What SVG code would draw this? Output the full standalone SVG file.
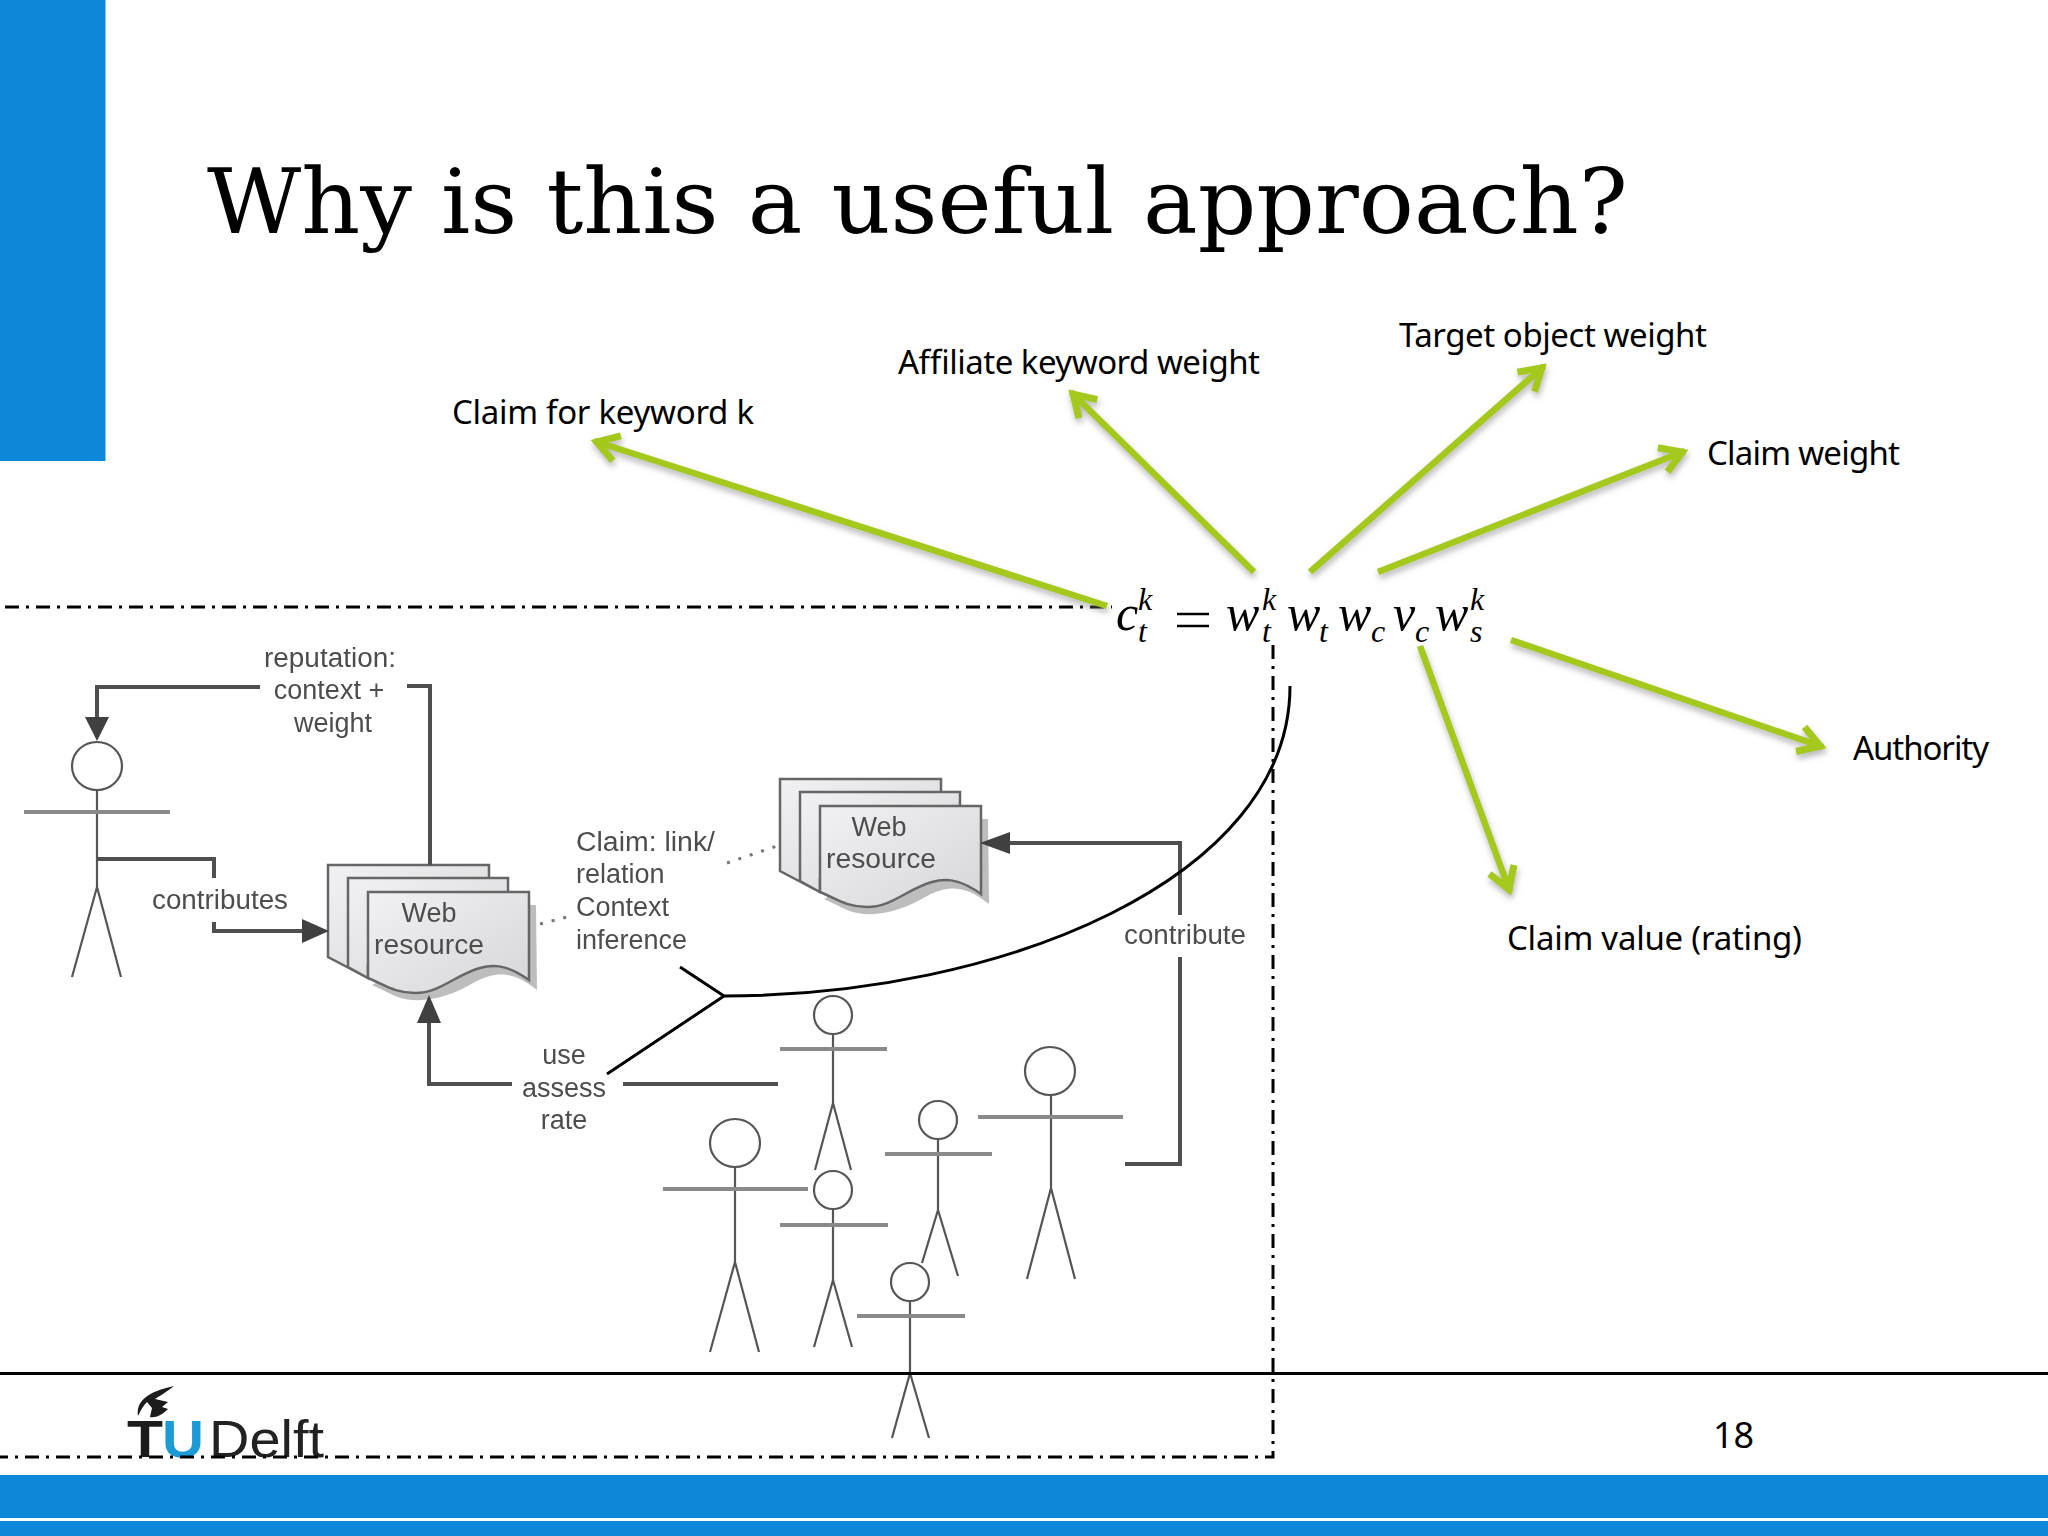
<svg xmlns="http://www.w3.org/2000/svg" xmlns:xlink="http://www.w3.org/1999/xlink" width="2048" height="1536" viewBox="0 0 2048 1536">
<style>
.lbl{font-family:"Noto Sans","Liberation Sans",sans-serif;font-size:33px;fill:#000}
.fig{font-family:"Liberation Sans",Arial,sans-serif;font-size:27px;fill:#4d4d4d;text-anchor:middle}
.figl{text-anchor:start}
.bar{fill:#0d87d7}
.stick{fill:none;stroke:#555;stroke-width:2.2}
.arm{fill:none;stroke:#8a8a8a;stroke-width:4}
.flow{fill:none;stroke:#4f4f4f;stroke-width:4}
.head{fill:#3f3f3f}
.dots{fill:none;stroke:#777;stroke-width:3;stroke-dasharray:3 9}
.dd{fill:none;stroke:#000;stroke-width:3;stroke-dasharray:14 7 3 7}
.green{fill:none;stroke:#a5c81a;stroke-width:6.5;marker-end:url(#chev)}
.m{font-family:"Liberation Serif","Times New Roman",serif;font-style:italic;font-size:50px;fill:#000}
.s{font-size:32px}
.page{stroke:#666;stroke-width:2.5;fill:url(#pg)}
</style>
<defs>
<linearGradient id="pg" x1="0" y1="0" x2="1" y2="1"><stop offset="0" stop-color="#f1f1f4"/><stop offset="1" stop-color="#d6d6d8"/></linearGradient>
<filter id="soft" x="-2%" y="-2%" width="104%" height="104%"><feGaussianBlur stdDeviation="0.7"/></filter>
<filter id="shade" x="-10%" y="-10%" width="120%" height="120%"><feDropShadow dx="1" dy="4" stdDeviation="3" flood-color="#777" flood-opacity="0.55"/></filter>
<marker id="chev" markerUnits="userSpaceOnUse" viewBox="-32 -20 36 40" refX="0" refY="0" markerWidth="36" markerHeight="40" orient="auto"><path d="M-24,-13 L-3,0 L-24,13" fill="none" stroke="#a5c81a" stroke-width="7"/></marker>
<g id="stack">
<path d="M529,905 L536,905 L537,990 C515,972 497,970 475,982 C450,997 420,1006 395,996 L372,985 Z" fill="#bdbdbd"/>
<path class="page" d="M328,865 H489 V960 H368 V978 L328,957 Z"/>
<path class="page" d="M348,878 H508 V965 H368 V978 L348,967 Z"/>
<path class="page" d="M368,892 H529 V980 C512,968 498,963 480,968 C455,975 440,993 415,993 C395,993 385,985 368,978 Z"/>
</g>
</defs>
<rect width="2048" height="1536" fill="#fff"/>
<rect id="side-bar" class="bar" x="0" y="0" width="105.500" height="461"/>
<g id="footer">
<rect class="bar" x="0" y="1475" width="2048" height="43"/>
<rect class="bar" x="0" y="1521" width="2048" height="15"/>
<text x="1713" y="1448" font-family="Noto Sans,Liberation Sans,sans-serif" font-size="36" fill="#000">18</text>
</g>
<text id="title" x="207" y="233" font-family="DejaVu Serif,Liberation Serif,serif" font-size="89" fill="#000" textLength="1421" lengthAdjust="spacingAndGlyphs">Why is this a useful approach?</text>

<g id="source-diagram" filter="url(#soft)">
<g id="actor-main">
<ellipse class="stick" cx="97" cy="766" rx="25" ry="24"/>
<path class="stick" d="M97,790 V887 M97,887 L72,977 M97,887 L121,977"/>
<path class="arm" d="M24,812 H170"/>
</g>
<g id="actor-2"><ellipse class="stick" cx="833" cy="1015" rx="19" ry="19"/><path class="stick" d="M833,1034 V1103 L815,1170 M833,1103 L851,1170"/><path class="arm" d="M780,1049 H887"/></g>
<g id="actor-3"><ellipse class="stick" cx="1050" cy="1071" rx="25" ry="24"/><path class="stick" d="M1051,1095 V1188 L1027,1279 M1051,1188 L1075,1279"/><path class="arm" d="M978,1117 H1123"/></g>
<g id="actor-4"><ellipse class="stick" cx="938" cy="1120" rx="19" ry="19"/><path class="stick" d="M938,1139 V1210 L922,1263 M938,1210 L958,1276"/><path class="arm" d="M885,1154 H992"/></g>
<g id="actor-5"><ellipse class="stick" cx="735" cy="1143" rx="25" ry="24"/><path class="stick" d="M735,1167 V1262 L710,1352 M735,1262 L759,1352"/><path class="arm" d="M663,1189 H808"/></g>
<g id="actor-6"><ellipse class="stick" cx="833" cy="1190" rx="19" ry="19"/><path class="stick" d="M833,1209 V1280 L814,1347 M833,1280 L852,1347"/><path class="arm" d="M780,1225 H888"/></g>
<g id="actor-7"><ellipse class="stick" cx="910" cy="1282" rx="19" ry="19"/><path class="stick" d="M910,1301 V1373 L892,1438 M910,1373 L929,1438"/><path class="arm" d="M857,1316 H965"/></g>

<g id="web-resource-1"><use xlink:href="#stack" href="#stack"/>
<text class="fig" x="429" y="922">Web</text><text class="fig" x="429" y="954" textLength="110" lengthAdjust="spacingAndGlyphs">resource</text></g>
<g id="web-resource-2"><use xlink:href="#stack" href="#stack" transform="translate(452,-86)"/>
<text class="fig" x="879" y="836">Web</text><text class="fig" x="881" y="868" textLength="110" lengthAdjust="spacingAndGlyphs">resource</text></g>

<g id="flows">
<path class="flow" d="M260,687 H97 V720"/>
<path class="head" d="M85,717 H109 L97,741 Z"/>
<path class="flow" d="M407,686 H430 V865"/>
<path class="flow" d="M97,859 H214 V878"/>
<path class="flow" d="M214,922 V931 H305"/>
<path class="head" d="M302,919 L329,931 L302,943 Z"/>
<path class="flow" d="M429,1020 V1084 H512"/>
<path class="head" d="M417,1023 L429,995 L441,1023 Z"/>
<path class="flow" d="M623,1084 H778"/>
<path class="flow" d="M1005,843 H1180 V915"/>
<path class="head" d="M1010,832 L980,843 L1010,854 Z"/>
<path class="flow" d="M1180,957 V1164 H1125"/>
<path class="dots" d="M540,924 L571,916"/>
<path class="dots" d="M727,863 L780,845"/>
</g>
<g id="diagram-labels">
<text class="fig" x="330" y="667" textLength="132" lengthAdjust="spacingAndGlyphs">reputation:</text>
<text class="fig" x="329" y="699">context +</text>
<text class="fig" x="333" y="732">weight</text>
<text class="fig" x="220" y="909" textLength="136" lengthAdjust="spacingAndGlyphs">contributes</text>
<text class="fig figl" x="576" y="851" textLength="139" lengthAdjust="spacingAndGlyphs">Claim: link/</text>
<text class="fig figl" x="576" y="883">relation</text>
<text class="fig figl" x="576" y="916">Context</text>
<text class="fig figl" x="576" y="949">inference</text>
<text class="fig" x="564" y="1064">use</text>
<text class="fig" x="564" y="1097">assess</text>
<text class="fig" x="564" y="1129">rate</text>
<text class="fig" x="1185" y="944" textLength="122" lengthAdjust="spacingAndGlyphs">contribute</text>
</g>
</g>

<line id="footer-rule" x1="0" y1="1373.500" x2="2048" y2="1373.500" stroke="#000" stroke-width="3"/>

<g id="logo" filter="url(#soft)">
<path d="M138,1416 C136,1402 146,1392 174,1386 C166,1392 160,1396 155,1399 L168,1402 L162,1407 L168,1409 C162,1415 156,1418 150,1417 L152,1408 L147,1402 C143,1406 141,1410 138,1416 Z" fill="#1a1a1a"/>
<text x="127" y="1457" font-family="Liberation Sans,sans-serif" font-weight="bold" font-size="52" fill="#1a1a1a" textLength="36" lengthAdjust="spacingAndGlyphs">T</text>
<text x="162" y="1457" font-family="Liberation Sans,sans-serif" font-weight="bold" font-size="52" fill="#1b9ad6" textLength="42" lengthAdjust="spacingAndGlyphs">U</text>
<text x="209" y="1457" font-family="Liberation Sans,sans-serif" font-size="52" fill="#222" textLength="115" lengthAdjust="spacingAndGlyphs">Delft</text>
</g>

<g id="crop-frame">
<path class="dd" d="M5,607 H1112"/>
<path class="dd" d="M1273,645 V1457 H0"/>
</g>

<path id="brace" d="M680,967 L724,996 L607,1074 M724,996 C1000,996 1290,880 1290,686" fill="none" stroke="#000" stroke-width="3"/>

<g id="formula">
<text class="m"><tspan x="1116" y="630">c</tspan><tspan class="s" x="1138" y="610">k</tspan><tspan class="s" x="1138" y="642">t</tspan><tspan x="1226" y="630">w</tspan><tspan class="s" x="1262" y="610">k</tspan><tspan class="s" x="1262" y="642">t</tspan><tspan x="1287" y="630">w</tspan><tspan class="s" x="1319" y="642">t</tspan><tspan x="1338" y="630">w</tspan><tspan class="s" x="1371" y="642">c</tspan><tspan x="1393" y="630">v</tspan><tspan class="s" x="1415" y="642">c</tspan><tspan x="1435" y="630">w</tspan><tspan class="s" x="1470" y="610">k</tspan><tspan class="s" x="1470" y="642">s</tspan></text>
<path d="M1177,614 H1209 M1177,626 H1209" stroke="#000" stroke-width="2.500" fill="none"/>
</g>

<g id="connectors" filter="url(#shade)">
<line class="green" x1="1107" y1="606" x2="594" y2="441"/>
<line class="green" x1="1254" y1="572" x2="1071" y2="392"/>
<line class="green" x1="1310" y1="572" x2="1544" y2="366"/>
<line class="green" x1="1378" y1="572" x2="1685" y2="451"/>
<line class="green" x1="1511" y1="640" x2="1823" y2="747"/>
<line class="green" x1="1420" y1="646" x2="1510" y2="892"/>
</g>

<g id="labels">
<text class="lbl" x="452" y="424" textLength="302">Claim for keyword k</text>
<text class="lbl" x="898" y="374" textLength="362">Affiliate keyword weight</text>
<text class="lbl" x="1399" y="347" textLength="308">Target object weight</text>
<text class="lbl" x="1707" y="465" textLength="193">Claim weight</text>
<text class="lbl" x="1853" y="760" textLength="136">Authority</text>
<text class="lbl" x="1507" y="950" textLength="295">Claim value (rating)</text>
</g>
</svg>
